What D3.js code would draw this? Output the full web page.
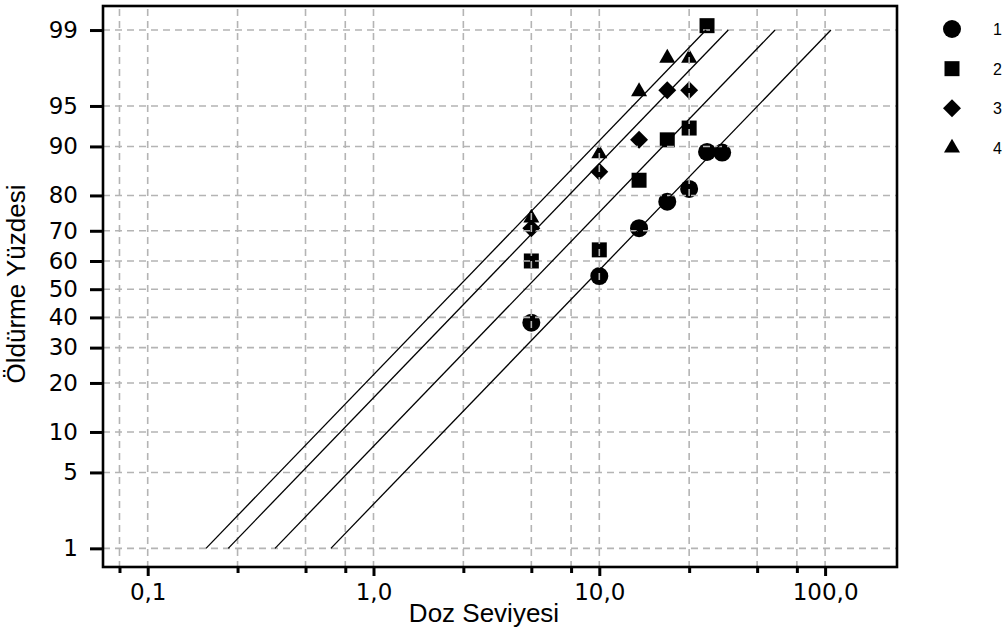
<!DOCTYPE html>
<html>
<head>
<meta charset="utf-8">
<script src="https://cdn.jsdelivr.net/npm/d3@7"></script>
<style>
  html, body { margin: 0; padding: 0; background: #fff; }
  svg { display: block; }
</style>
</head>
<body>
<svg id="chart" width="1006" height="633"></svg>
<script>
// ---------------- data ----------------
const seriesNames = ["1", "2", "3", "4"];
const dose1 = [5, 10, 15, 20, 25, 30, 35];
const kill1 = [38.2, 54.7, 70.8, 78.4, 81.6, 89.1, 89.0];
const dose2 = [5, 10, 15, 20, 25, 30];
const kill2 = [60.0, 63.8, 83.6, 91.0, 92.6, 99.1];
const dose3 = [5, 10, 15, 20, 25];
const kill3 = [70.8, 85.4, 91.0, 96.3, 96.3];
const dose4 = [5, 10, 15, 20, 25];
const kill4 = [73.9, 88.8, 96.2, 98.1, 98.1];
// fitted parallel probit lines: LD50 per series and common slope (probit per log10 dose)
const ld50 = [8.29, 4.69, 2.91, 2.32];
const probitSlope = 2.101;
const fitRange = [1, 99];
// axis ticks
const xTicksMajor = [0.1, 1, 10, 100];
const xTickLabels = ["0,1", "1,0", "10,0", "100,0"];
const xTicksMinor = [0.075, 0.25, 0.5, 0.75, 2.5, 5, 7.5, 25, 50, 75];
const yTicks = [1, 5, 10, 20, 30, 40, 50, 60, 70, 80, 90, 95, 99];

// ---------------- helpers ----------------
// inverse standard normal CDF (Acklam)
function probit(p) {
  const a = [-3.969683028665376e+01, 2.209460984245205e+02, -2.759285104469687e+02, 1.383577518672690e+02, -3.066479806614716e+01, 2.506628277459239e+00];
  const b = [-5.447609879822406e+01, 1.615858368580409e+02, -1.556989798598866e+02, 6.680131188771972e+01, -1.328068155288572e+01];
  const c = [-7.784894002430293e-03, -3.223964580411365e-01, -2.400758277161838e+00, -2.549732539343734e+00, 4.374664141464968e+00, 2.938163982698783e+00];
  const d = [7.784695709041462e-03, 3.224671290700398e-01, 2.445134137142996e+00, 3.754408661907416e+00];
  const pl = 0.02425, ph = 1 - pl;
  let q, r;
  if (p < pl) {
    q = Math.sqrt(-2 * Math.log(p));
    return (((((c[0]*q+c[1])*q+c[2])*q+c[3])*q+c[4])*q+c[5]) / ((((d[0]*q+d[1])*q+d[2])*q+d[3])*q+1);
  } else if (p <= ph) {
    q = p - 0.5; r = q * q;
    return (((((a[0]*r+a[1])*r+a[2])*r+a[3])*r+a[4])*r+a[5])*q / (((((b[0]*r+b[1])*r+b[2])*r+b[3])*r+b[4])*r+1);
  } else {
    q = Math.sqrt(-2 * Math.log(1 - p));
    return -(((((c[0]*q+c[1])*q+c[2])*q+c[3])*q+c[4])*q+c[5]) / ((((d[0]*q+d[1])*q+d[2])*q+d[3])*q+1);
  }
}

// ---------------- layout ----------------
const L = 103, R = 897, T = 6, B = 567;
const svg = d3.select("#chart");

// x: log scale; 0.1 -> 147.7, 10 -> 599.3
const pxDecade = (599.3 - 147.7) / 2;
const xMin = Math.pow(10, -1 - (147.7 - L) / pxDecade);
const xMax = Math.pow(10, 1 + (R - 599.3) / pxDecade);
const x = d3.scaleLog().domain([xMin, xMax]).range([L, R]);

// y: probit scale
const pxUnit = 111.4, y50 = 289.2;
const zTop = (y50 - T) / pxUnit, zBot = -(B - y50) / pxUnit;
const yz = d3.scaleLinear().domain([zBot, zTop]).range([B, T]);
const y = pct => yz(probit(pct / 100));

const series = [
  { name: seriesNames[0], dose: dose1, kill: kill1, shape: "circle" },
  { name: seriesNames[1], dose: dose2, kill: kill2, shape: "square" },
  { name: seriesNames[2], dose: dose3, kill: kill3, shape: "diamond" },
  { name: seriesNames[3], dose: dose4, kill: kill4, shape: "triangle" }
];

function symbolPath(shape) {
  if (shape === "circle") return d3.symbol(d3.symbolCircle, Math.PI * 9 * 9)();
  if (shape === "square") return d3.symbol(d3.symbolSquare, 15 * 15)();
  if (shape === "diamond") return d3.symbol(d3.symbolSquare, 12.7 * 12.7)();
  return d3.symbol(d3.symbolTriangle, 111)();
}
function symbolRotate(shape) { return shape === "diamond" ? " rotate(45)" : ""; }

// ---------------- markers ----------------
const gMarks = svg.append("g");
series.forEach(s => {
  gMarks.selectAll(null)
    .data(s.dose.map((d, i) => ({ d, k: s.kill[i] })))
    .join("path")
    .attr("d", symbolPath(s.shape))
    .attr("transform", p => `translate(${x(p.d)},${y(p.k)})${symbolRotate(s.shape)}`)
    .attr("fill", "#000");
});

// ---------------- grid ----------------
const gGrid = svg.append("g")
  .attr("stroke", "#b4b4b4").attr("stroke-width", 1.6)
  .attr("stroke-dasharray", "7,5").attr("fill", "none");
const allX = xTicksMajor.concat(xTicksMinor);
gGrid.selectAll(null).data(allX).join("line")
  .attr("x1", d => x(d)).attr("x2", d => x(d))
  .attr("y1", T + 3).attr("y2", B);
gGrid.selectAll(null).data(yTicks).join("line")
  .attr("x1", L).attr("x2", R)
  .attr("y1", d => y(d)).attr("y2", d => y(d));

// ---------------- fitted lines ----------------
const line = d3.line().x(p => x(p[0])).y(p => y(p[1]));
svg.append("g").selectAll(null).data(ld50).join("path")
  .attr("d", ld => line(fitRange.map(p => [Math.pow(10, Math.log10(ld) + probit(p / 100) / probitSlope), p])))
  .attr("fill", "none").attr("stroke", "#000").attr("stroke-width", 1.3);

// ---------------- frame ----------------
svg.append("rect")
  .attr("x", L).attr("y", T).attr("width", R - L).attr("height", B - T)
  .attr("fill", "none").attr("stroke", "#000").attr("stroke-width", 2.6);

// ---------------- axes ----------------
const xAxisMajor = d3.axisBottom(x).tickValues(xTicksMajor)
  .tickFormat((d, i) => xTickLabels[i]).tickSize(9).tickPadding(8);
const gx = svg.append("g").attr("transform", `translate(0,${B})`).call(xAxisMajor);
gx.select(".domain").remove();
gx.selectAll(".tick line").attr("stroke", "#000").attr("stroke-width", 3);
gx.selectAll(".tick text").attr("font-family", "DejaVu Sans, Verdana, sans-serif")
  .attr("font-size", 23).attr("fill", "#000").attr("dy", "0.71em");

const xAxisMinor = d3.axisBottom(x).tickValues(xTicksMinor).tickFormat("").tickSize(6);
const gxm = svg.append("g").attr("transform", `translate(0,${B})`).call(xAxisMinor);
gxm.select(".domain").remove();
gxm.selectAll(".tick line").attr("stroke", "#000").attr("stroke-width", 3);

const yAxisScale = d3.scaleLinear().domain(yz.domain()).range(yz.range());
const yAxis = d3.axisLeft(yAxisScale).tickValues(yTicks.map(t => probit(t / 100)))
  .tickFormat((d, i) => String(yTicks[i])).tickSize(13).tickPadding(12);
const gy = svg.append("g").attr("transform", `translate(${L},0)`).call(yAxis);
gy.select(".domain").remove();
gy.selectAll(".tick line").attr("stroke", "#000").attr("stroke-width", 3);
gy.selectAll(".tick text").attr("font-family", "DejaVu Sans, Verdana, sans-serif")
  .attr("font-size", 23).attr("fill", "#000");

// titles
svg.append("text").text("Doz Seviyesi")
  .attr("x", 484).attr("y", 622).attr("text-anchor", "middle")
  .attr("font-family", "Liberation Sans, Arial, sans-serif").attr("font-size", 26).attr("fill", "#000");
svg.append("text").text("Öldürme Yüzdesi")
  .attr("transform", "translate(25,284) rotate(-90)").attr("text-anchor", "middle")
  .attr("font-family", "Liberation Sans, Arial, sans-serif").attr("font-size", 26).attr("fill", "#000");

// ---------------- legend ----------------
const legY = d3.scalePoint().domain(seriesNames).range([29, 148]);
const gLeg = svg.append("g");
series.forEach(s => {
  gLeg.append("path").attr("d", symbolPath(s.shape))
    .attr("transform", `translate(952,${legY(s.name)})${symbolRotate(s.shape)}`)
    .attr("fill", "#000");
  gLeg.append("text").text(s.name)
    .attr("x", 993).attr("y", legY(s.name) + 6)
    .attr("font-family", "Liberation Sans, Arial, sans-serif").attr("font-size", 16).attr("fill", "#000");
});
</script>
</body>
</html>
